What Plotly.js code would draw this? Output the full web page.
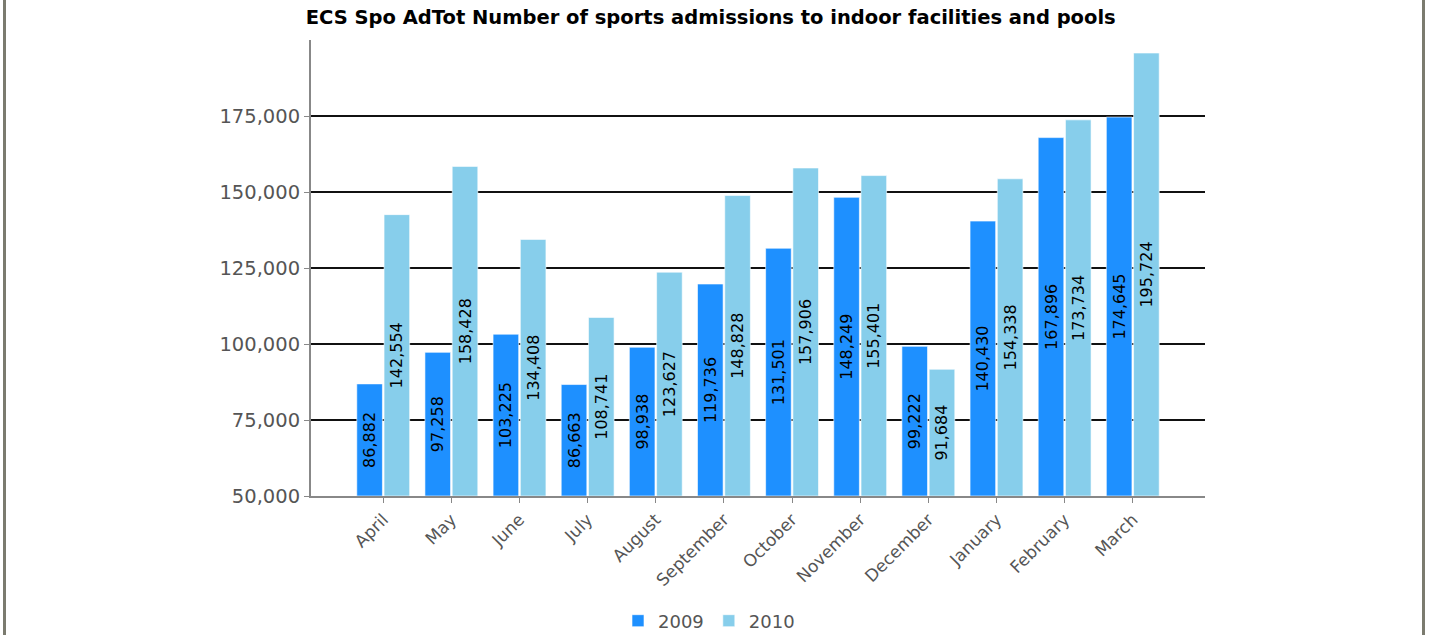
<!DOCTYPE html>
<html><head><meta charset="utf-8">
<script src="https://cdn.plot.ly/plotly-3.0.1.min.js"></script>
<style>
html,body{margin:0;padding:0;background:#fff;}
#wrap{position:relative;width:1430px;height:635px;}
#chart{width:1430px;height:635px;}
.bl{position:absolute;top:0;width:3px;height:635px;background:#7b7b6f;}
</style></head>
<body><div id="wrap"><div id="chart"></div>
<div class="bl" style="left:3px"></div><div class="bl" style="left:1422px"></div></div>
<script>
const months = ["April","May","June","July","August","September","October","November","December","January","February","March"];
const v2009 = [86882, 97258, 103225, 86663, 98938, 119736, 131501, 148249, 99222, 140430, 167896, 174645];
const v2010 = [142554, 158428, 134408, 108741, 123627, 148828, 157906, 155401, 91684, 154338, 173734, 195724];
const yTicks = [50000, 75000, 100000, 125000, 150000, 175000];
const axisMin = 50000, axisMax = 200000;
const fmt = v => v.toLocaleString('en-US');
const FONT = 'DejaVu Sans, Verdana, sans-serif';
function mk(name, vals, color){
  return {type:'bar', name:name, x:months, y:vals.map(v => v - axisMin), base:axisMin,
    marker:{color:color, line:{color:'rgba(255,255,255,0.6)', width:1}},
    text:vals.map(fmt), textposition:'inside', insidetextanchor:'middle', textangle:-90,
    textfont:{family:FONT, size:16, color:'#000'}, constraintext:'none',
    hoverinfo:'x+text'};
}
const data = [mk('2009', v2009, '#1E90FF'), mk('2010', v2010, '#87CEEB')];
const layout = {
  width:1430, height:635,
  margin:{l:311, r:225, t:40, b:139, pad:0, autoexpand:false},
  paper_bgcolor:'#fff', plot_bgcolor:'#fff',
  title:{text:'<b>ECS Spo AdTot Number of sports admissions to indoor facilities and pools</b>',
    font:{family:FONT, size:19.5, color:'#000'}, x:0.497, xref:'container', xanchor:'center',
    y:1-17/635, yref:'container', yanchor:'middle', automargin:false},
  barmode:'group', bargap:0.2, bargroupgap:0.06,
  xaxis:{type:'category', range:[-1.06, 12.06], automargin:false, showgrid:false, showline:true, linecolor:'#888', linewidth:2,
    ticks:'outside', ticklen:5, tickcolor:'#888', tickangle:-45,
    tickfont:{family:FONT, size:17, color:'#555'}},
  yaxis:{range:[axisMin, axisMax], automargin:false, tickvals:yTicks, ticktext:yTicks.map(fmt),
    showgrid:true, gridcolor:'#111', gridwidth:1.6, zeroline:false,
    showline:true, linecolor:'#888', linewidth:2, ticks:'outside', ticklen:5, tickcolor:'#888',
    tickfont:{family:FONT, size:19.5, color:'#555'}},
  showlegend:true,
  legend:{orientation:'h', x:618/1430, xref:'container', xanchor:'left', y:1-621/635, yref:'container', yanchor:'middle',
    font:{family:FONT, size:18, color:'#555'}, itemwidth:30, traceorder:'normal'}
};
Plotly.newPlot('chart', data, layout, {displayModeBar:false, staticPlot:true});
</script></body></html>
